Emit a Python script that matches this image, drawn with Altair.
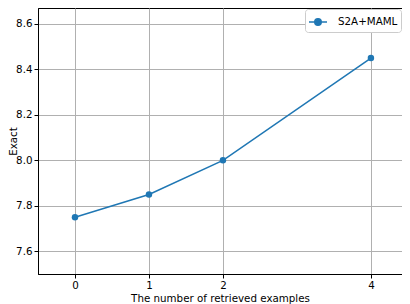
import altair as alt
import pandas as pd

x_vals = [0, 1, 2, 4]
y_vals = [7.75, 7.85, 8.00, 8.45]
series = ["S2A+MAML"] * 4
x_ticks = [0, 1, 2, 4]
y_ticks = [7.6, 7.8, 8.0, 8.2, 8.4, 8.6]

df = pd.DataFrame({"x": x_vals, "y": y_vals, "s": series})

legend_symbol = ("M-1,0L1,0 M0.36,0 A0.36,0.36 0 1,1 -0.36,0 "
                 "A0.36,0.36 0 1,1 0.36,0 Z")

base = alt.Chart(df).encode(
    x=alt.X("x:Q", scale=alt.Scale(domain=[-0.5, 4.42], nice=False, zero=False),
            axis=alt.Axis(values=x_ticks, format="d", title="The number of retrieved examples",
                          grid=True, titleY=27, titleBaseline="alphabetic")),
    y=alt.Y("y:Q", scale=alt.Scale(domain=[7.5, 8.67], nice=False, zero=False),
            axis=alt.Axis(values=y_ticks, format=".1f", title="Exact", grid=True,
                          titleX=-22, titleBaseline="alphabetic")),
    color=alt.Color("s:N", scale=alt.Scale(range=["#1f77b4"]),
                    legend=alt.Legend(title=None, orient="top-right", symbolType=legend_symbol,
                                      symbolSize=324, symbolStrokeWidth=1.5,
                                      symbolFillColor="#1f77b4",
                                      labelFont="DejaVu Sans", labelFontSize=10.3,
                                      labelColor="black", labelOffset=10,
                                      fillColor="white", strokeColor="#cccccc",
                                      cornerRadius=3, padding=3, offset=1)),
)

line = base.mark_line(strokeWidth=1.5)
pts = base.mark_point(filled=True, size=42, opacity=1, shape="circle")

chart = (line + pts).properties(
    width=364, height=266,
    padding={"left": 30, "top": 0, "right": 0, "bottom": 30},
    autosize=alt.AutoSizeParams(type="none"),
).configure_view(
    stroke="black", strokeWidth=1
).configure_axis(
    labelFont="DejaVu Sans", labelFontSize=10.3, labelColor="black",
    titleFont="DejaVu Sans", titleFontSize=10.3, titleFontWeight="normal", titleColor="black",
    gridColor="#b0b0b0", gridWidth=1, gridOpacity=1,
    domainColor="black", tickColor="black", tickSize=4, tickWidth=1,
    labelPadding=2,
)

chart.save("out.html", embed_options={"renderer": "svg", "actions": False})
